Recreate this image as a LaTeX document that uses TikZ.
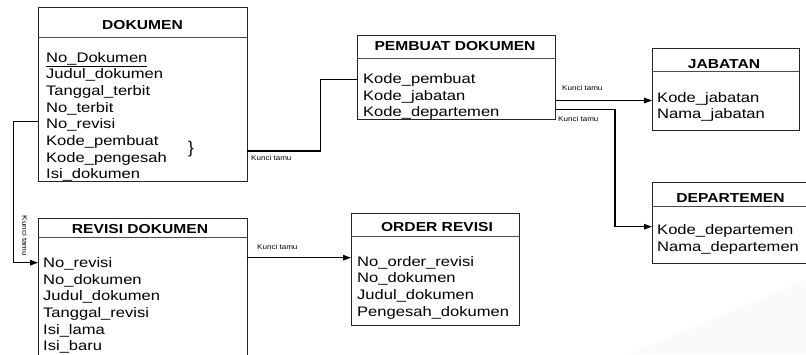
\documentclass[tikz,border=0pt]{standalone}
\usepackage{fontspec}
\setmainfont{Liberation Sans}
\newfontfamily\rowfont[FakeStretch=1.2]{Liberation Sans}
\newfontfamily\titlefont[FakeStretch=1.2]{Liberation Sans}
\newfontfamily\smallfont[FakeStretch=1.15]{Liberation Sans}
\usetikzlibrary{arrows.meta}
\tikzset{
  box/.style={draw=black!85, line width=0.9pt, fill=white, outer sep=0pt, inner sep=0pt, anchor=north west},
  sep/.style={draw=black!70, line width=0.9pt},
  ttl/.style={font=\fontsize{13}{16}\titlefont\bfseries, anchor=base, inner sep=0pt},
  attr/.style={font=\fontsize{13.8}{16}\rowfont, anchor=base west, inner sep=0pt},
  lbl/.style={font=\fontsize{7}{9}\smallfont, inner sep=0pt},
  conn/.style={line width=1.2pt, draw=black},
  arr/.style={conn, -{Triangle[length=8pt,width=5.5pt]}}
}
\begin{document}
\begin{tikzpicture}[x=1pt,y=-1pt]
\clip (0,0) rectangle (806,354);
\fill[white] (0,0) rectangle (806,354);
\fill[black!2] (630,354) -- (806,280) -- (806,354) -- cycle;

% DOKUMEN
\node[box, minimum width=209pt, minimum height=174pt] (dok) at (38,7) {};
\draw[sep] (38,37) -- (247,37);
\node[ttl] (dokT) at (142.5,29.3) {DOKUMEN};
\node[attr] (d1) at (46,62) {\underline{No\_Dokumen}};
\node[attr] (d2) at (46,78.7) {Judul\_dokumen};
\node[attr] (d3) at (46,95.4) {Tanggal\_terbit};
\node[attr] (d4) at (46,112.1) {No\_terbit};
\node[attr] (d5) at (46,128.8) {No\_revisi};
\node[attr] (d6) at (46,145.5) {Kode\_pembuat};
\node[attr] (d7) at (46,162.2) {Kode\_pengesah};
\node[attr] (d8) at (46,178.9) {Isi\_dokumen};
\node[font=\fontsize{17}{17}\selectfont, inner sep=0pt] (brace) at (191,149) {\}};

% REVISI DOKUMEN
\node[box, minimum width=209pt, minimum height=160pt] (rev) at (38,218) {};
\draw[sep] (38,237) -- (247,237);
\node[ttl] (revT) at (140,233) {REVISI DOKUMEN};
\node[attr] (r1) at (43,267.3) {No\_revisi};
\node[attr] (r2) at (43,284) {No\_dokumen};
\node[attr] (r3) at (43,300.7) {Judul\_dokumen};
\node[attr] (r4) at (43,317.4) {Tanggal\_revisi};
\node[attr] (r5) at (43,334.1) {Isi\_lama};
\node[attr] (r6) at (43,350.8) {Isi\_baru};

% PEMBUAT DOKUMEN
\node[box, minimum width=198pt, minimum height=84pt] (pem) at (357,35) {};
\draw[sep] (357,58.3) -- (555,58.3);
\node[ttl] (pemT) at (455,50.5) {PEMBUAT DOKUMEN};
\node[attr] (p1) at (363,83.8) {Kode\_pembuat};
\node[attr] (p2) at (363,100.2) {Kode\_jabatan};
\node[attr] (p3) at (363,116.6) {Kode\_departemen};

% JABATAN
\node[box, minimum width=147pt, minimum height=82pt] (jab) at (652,48) {};
\draw[sep] (652,71.7) -- (799,71.7);
\node[ttl] (jabT) at (724,68) {JABATAN};
\node[attr] (j1) at (657,102.6) {Kode\_jabatan};
\node[attr] (j2) at (657,118.6) {Nama\_jabatan};

% DEPARTEMEN
\node[box, minimum width=157pt, minimum height=81pt] (dep) at (652,182) {};
\draw[sep] (652,206.7) -- (809,206.7);
\node[ttl] (depT) at (730.5,202.2) {DEPARTEMEN};
\node[attr] (e1) at (657,234.3) {Kode\_departemen};
\node[attr] (e2) at (657,251) {Nama\_departemen};

% ORDER REVISI
\node[box, minimum width=168pt, minimum height=112pt] (ord) at (351,213) {};
\draw[sep] (351,236.7) -- (519,236.7);
\node[ttl] (ordT) at (437,231) {ORDER REVISI};
\node[attr] (o1) at (357,266) {No\_order\_revisi};
\node[attr] (o2) at (357,282.7) {No\_dokumen};
\node[attr] (o3) at (357,299.4) {Judul\_dokumen};
\node[attr] (o4) at (357,316.1) {Pengesah\_dokumen};

% bend points
\coordinate (b1) at (13.3,121.7);
\coordinate (b2) at (13.3,262.7);
\coordinate (b3) at (320.5,151);
\coordinate (b4) at (320.5,79.3);
\coordinate (b5) at (615,109.3);
\coordinate (b6) at (615,226.7);

% connectors
\draw[arr] (dok.west |- b1) -- (b1) -- (b2) -- (rev.west |- b2);
\draw[conn] (dok.east |- b3) -- (b3) -- (b4) -- (pem.west |- b4);
\draw[arr] (pem.east |- 0,100.5) -- (jab.west |- 0,100.5);
\draw[arr] (pem.east |- b5) -- (b5) -- (b6) -- (dep.west |- b6);
\draw[arr] (rev.east |- 0,257.7) -- (ord.west |- 0,257.7);

% labels
\node[lbl, anchor=base west] (k1) at (251,160) {Kunci tamu};
\node[lbl, anchor=base west] (k2) at (562,90.5) {Kunci tamu};
\node[lbl, anchor=base west] (k3) at (558,121.7) {Kunci tamu};
\node[lbl, anchor=base west] (k4) at (257,249.3) {Kunci tamu};
\node[lbl, rotate=-90] (k5) at (25,236) {Kunci tamu};
\end{tikzpicture}
\end{document}
